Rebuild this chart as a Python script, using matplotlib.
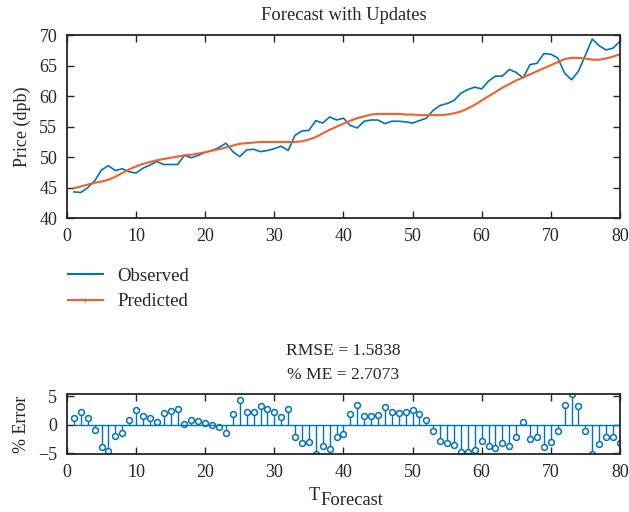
import matplotlib
matplotlib.use('Agg')
import matplotlib.pyplot as plt
from matplotlib.lines import Line2D
import numpy as np

plt.rcParams['font.family'] = ['Liberation Serif', 'DejaVu Serif']

# time index
t = np.arange(1, 81)

# observed price
observed = [44.3, 44.2, 45.0, 46.1, 47.9, 48.6, 47.8, 48.1, 47.6, 47.4,
            48.2, 48.7, 49.3, 48.8, 48.8, 48.8, 50.3, 49.9, 50.3, 50.8,
            51.1, 51.6, 52.3, 50.9, 50.1, 51.2, 51.3, 50.9, 51.1, 51.4,
            51.8, 51.1, 53.6, 54.3, 54.4, 56.0, 55.6, 56.6, 56.1, 56.4,
            55.2, 54.8, 55.9, 56.1, 56.1, 55.5, 55.9, 55.9, 55.8, 55.6,
            56.0, 56.4, 57.7, 58.5, 58.8, 59.3, 60.5, 61.1, 61.5, 61.2,
            62.5, 63.3, 63.3, 64.4, 63.9, 63.0, 65.2, 65.4, 67.0, 66.9,
            66.3, 63.8, 62.7, 64.1, 66.7, 69.4, 68.3, 67.6, 67.9, 69.0]

# predicted price
predicted = [44.9, 45.2, 45.5, 45.8, 46.0, 46.3, 46.8, 47.4, 48.0, 48.5,
             48.9, 49.2, 49.5, 49.7, 49.9, 50.1, 50.3, 50.4, 50.6, 50.8,
             51.1, 51.3, 51.6, 51.9, 52.2, 52.3, 52.4, 52.5, 52.5, 52.5,
             52.5, 52.5, 52.5, 52.6, 52.9, 53.3, 53.9, 54.5, 55.0, 55.5,
             56.0, 56.4, 56.7, 57.0, 57.1, 57.1, 57.1, 57.1, 57.0, 57.0,
             56.9, 56.9, 56.9, 56.9, 57.0, 57.2, 57.5, 58.0, 58.6, 59.3,
             60.0, 60.7, 61.4, 62.0, 62.6, 63.1, 63.6, 64.1, 64.6, 65.1,
             65.6, 66.1, 66.3, 66.3, 66.2, 66.0, 66.0, 66.2, 66.5, 66.9]

# percent error
pct_error = [1.1, 2.2, 1.1, -0.9, -4.0, -4.7, -2.0, -1.5, 0.9, 2.5,
             1.5, 1.1, 0.5, 2.0, 2.4, 2.7, 0.1, 0.9, 0.6, 0.2,
             0.0, -0.5, -1.4, 1.9, 4.3, 2.2, 2.2, 3.3, 2.8, 2.2,
             1.4, 2.7, -2.2, -3.3, -3.0, -5.1, -3.7, -4.3, -2.1, -1.6,
             1.9, 3.4, 1.6, 1.6, 1.7, 3.1, 2.2, 2.1, 2.2, 2.6,
             1.9, 0.8, -1.2, -2.9, -3.3, -3.6, -4.9, -4.9, -4.5, -2.9,
             -3.8, -4.2, -3.3, -3.8, -2.2, 0.5, -2.5, -2.1, -4.0, -3.1,
             -1.2, 3.4, 5.35, 3.3, -1.2, -5.2, -3.5, -2.1, -2.1, -3.3]

rmse = 1.5838
pct_me = 2.7073

blue = '#0072BD'
orange = '#F0602A'
dark = '#262626'

fig = plt.figure(figsize=(6.29, 5.12), dpi=100)

ax1 = fig.add_axes([0.1065, 0.574, 0.879, 0.357])
ax1.plot(t, observed, color=blue, lw=1.2)
ax1.plot(t, predicted, color=orange, lw=1.5)
ax1.set_xlim(0, 80)
ax1.set_ylim(40, 70)
ax1.set_xticks(np.arange(0, 81, 10))
ax1.set_yticks(np.arange(40, 71, 5))
ax1.set_title('Forecast with Updates', fontsize=13.3, pad=11, color=dark)
ax1.set_ylabel('Price (dpb)', fontsize=13, color=dark, labelpad=6)

h1 = Line2D([], [], color=blue, lw=1.5)
h2 = Line2D([], [], color=orange, lw=1.5, marker='+', ms=3, mew=0.8)
fig.legend([h1, h2], ['Observed', 'Predicted'], loc='upper left',
           bbox_to_anchor=(0.108, 0.477), frameon=False, fontsize=13.5,
           handlelength=1.87, handletextpad=0.75, labelspacing=0.43,
           borderpad=0, borderaxespad=0, labelcolor=dark)

ax2 = fig.add_axes([0.1065, 0.113, 0.879, 0.117])
ml, sl, bl = ax2.stem(t, pct_error, basefmt='-')
plt.setp(sl, color=blue, lw=1.0)
plt.setp(ml, color=blue, marker='o', ms=4.2, mfc='white', mew=1.1)
plt.setp(bl, color=blue, lw=1.0)
ax2.set_xlim(0, 80)
ax2.set_ylim(min(pct_error), max(pct_error))
ax2.set_xticks(np.arange(0, 81, 10))
ax2.set_yticks([-5, 0, 5])
ax2.set_title('RMSE = %.4f\n%% ME = %.4f' % (rmse, pct_me), fontsize=12.6,
              linespacing=1.65, pad=11, color=dark)
ax2.set_ylabel('% Error', fontsize=13, color=dark, labelpad=6)

# x label with a lowered "Forecast" part
fig.text(0.491, 0.023, 'T', fontsize=13.3, ha='left', va='baseline', color=dark)
fig.text(0.510, 0.013, 'Forecast', fontsize=13.3, ha='left', va='baseline',
         color=dark)

for ax in (ax1, ax2):
    ax.tick_params(direction='in', top=True, right=True, labelsize=13,
                   length=5, width=1.0, pad=7, colors=dark)
    for s in ax.spines.values():
        s.set_linewidth(1.3)
        s.set_color(dark)

fig.savefig('out.png', dpi=100)
